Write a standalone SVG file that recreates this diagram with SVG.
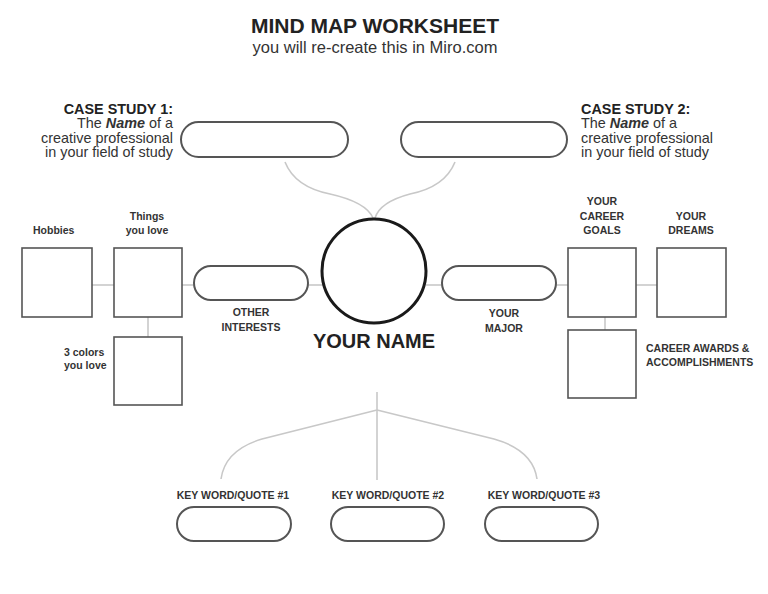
<svg xmlns="http://www.w3.org/2000/svg" width="768" height="594" viewBox="0 0 768 594">
<style>
  text { font-family: "Liberation Sans", Arial, sans-serif; fill: #222; }
  .title { font-size: 21px; font-weight: bold; text-anchor: middle; }
  .sub { font-size: 16.5px; text-anchor: middle; fill: #333; }
  .cs { font-size: 14.4px; fill: #333; }
  .csh { font-size: 14.4px; font-weight: bold; fill: #222; }
  .lbl { font-size: 10.5px; font-weight: bold; fill: #333; }
  .mid { text-anchor: middle; }
  .pill { fill: #fff; stroke: #555; stroke-width: 2; }
  .box { fill: #fff; stroke: #555; stroke-width: 1.6; }
  .conn { fill: none; stroke: #c8c8c8; stroke-width: 1.6; }
</style>
<rect width="768" height="594" fill="#fff"/>

<g id="title">
  <text class="title" x="375" y="33">MIND MAP WORKSHEET</text>
  <text class="sub" x="375" y="53">you will re-create this in Miro.com</text>
</g>

<g id="connectors">
  <path class="conn" d="M285,162 Q295,187 330,194 Q366,202 373,218"/>
  <path class="conn" d="M455,162 Q445,187 410,194 Q380,202 375,218"/>
  <line class="conn" x1="92" y1="285" x2="114" y2="285"/>
  <line class="conn" x1="182" y1="285" x2="194" y2="285"/>
  <line class="conn" x1="308" y1="285" x2="323" y2="285"/>
  <line class="conn" x1="148" y1="317" x2="148" y2="337"/>
  <line class="conn" x1="426" y1="285" x2="442" y2="285"/>
  <line class="conn" x1="556" y1="285" x2="568" y2="285"/>
  <line class="conn" x1="636" y1="285" x2="657" y2="285"/>
  <line class="conn" x1="605" y1="317" x2="605" y2="330"/>
  <line class="conn" x1="377" y1="392" x2="377" y2="480"/>
  <path class="conn" d="M377,410 L262,439 Q225,450 221,479"/>
  <path class="conn" d="M377,410 L494,439 Q533,450 537,479"/>
</g>

<g id="case-study-1">
  <text class="csh" x="173" y="114" text-anchor="end">CASE STUDY 1:</text>
  <text class="cs" x="173" y="128" text-anchor="end">The <tspan font-weight="bold" font-style="italic">Name</tspan> of a</text>
  <text class="cs" x="173" y="143" text-anchor="end">creative professional</text>
  <text class="cs" x="173" y="157" text-anchor="end">in your field of study</text>
  <rect class="pill" x="181" y="122" width="167" height="35" rx="17.5"/>
</g>

<g id="case-study-2">
  <text class="csh" x="581" y="114">CASE STUDY 2:</text>
  <text class="cs" x="581" y="128">The <tspan font-weight="bold" font-style="italic">Name</tspan> of a</text>
  <text class="cs" x="581" y="143">creative professional</text>
  <text class="cs" x="581" y="157">in your field of study</text>
  <rect class="pill" x="401" y="122" width="166" height="35" rx="17.5"/>
</g>

<g id="your-name">
  <circle cx="374" cy="271" r="52" fill="#fff" stroke="#1a1a1a" stroke-width="3"/>
  <text x="374" y="348" font-size="20" font-weight="bold" text-anchor="middle" fill="#1a1a1a">YOUR NAME</text>
</g>

<g id="hobbies">
  <text class="lbl" x="33" y="234">Hobbies</text>
  <rect class="box" x="22" y="248" width="70" height="69"/>
</g>

<g id="things-you-love">
  <text class="lbl mid" x="147" y="220">Things</text>
  <text class="lbl mid" x="147" y="234">you love</text>
  <rect class="box" x="114" y="248" width="68" height="69"/>
</g>

<g id="three-colors">
  <text class="lbl" x="64" y="356">3 colors</text>
  <text class="lbl" x="64" y="369">you love</text>
  <rect class="box" x="114" y="337" width="68" height="68"/>
</g>

<g id="other-interests">
  <rect class="pill" x="194" y="266" width="114" height="34" rx="17"/>
  <text class="lbl mid" x="251" y="316">OTHER</text>
  <text class="lbl mid" x="251" y="331">INTERESTS</text>
</g>

<g id="your-major">
  <rect class="pill" x="442" y="266" width="114" height="34" rx="17"/>
  <text class="lbl mid" x="504" y="317">YOUR</text>
  <text class="lbl mid" x="504" y="332">MAJOR</text>
</g>

<g id="career-goals">
  <text class="lbl mid" x="602" y="205">YOUR</text>
  <text class="lbl mid" x="602" y="220">CAREER</text>
  <text class="lbl mid" x="602" y="234">GOALS</text>
  <rect class="box" x="568" y="248" width="68" height="69"/>
</g>

<g id="dreams">
  <text class="lbl mid" x="691" y="220">YOUR</text>
  <text class="lbl mid" x="691" y="234">DREAMS</text>
  <rect class="box" x="657" y="248" width="69" height="69"/>
</g>

<g id="career-awards">
  <rect class="box" x="568" y="330" width="68" height="68"/>
  <text class="lbl" x="646" y="352">CAREER AWARDS &amp;</text>
  <text class="lbl" x="646" y="366">ACCOMPLISHMENTS</text>
</g>

<g id="key-word-1">
  <text class="lbl mid" x="233" y="499">KEY WORD/QUOTE #1</text>
  <rect class="pill" x="177" y="507" width="114" height="34" rx="17"/>
</g>

<g id="key-word-2">
  <text class="lbl mid" x="388" y="499">KEY WORD/QUOTE #2</text>
  <rect class="pill" x="331" y="507" width="113" height="34" rx="17"/>
</g>

<g id="key-word-3">
  <text class="lbl mid" x="544" y="499">KEY WORD/QUOTE #3</text>
  <rect class="pill" x="485" y="507" width="113" height="34" rx="17"/>
</g>
</svg>
